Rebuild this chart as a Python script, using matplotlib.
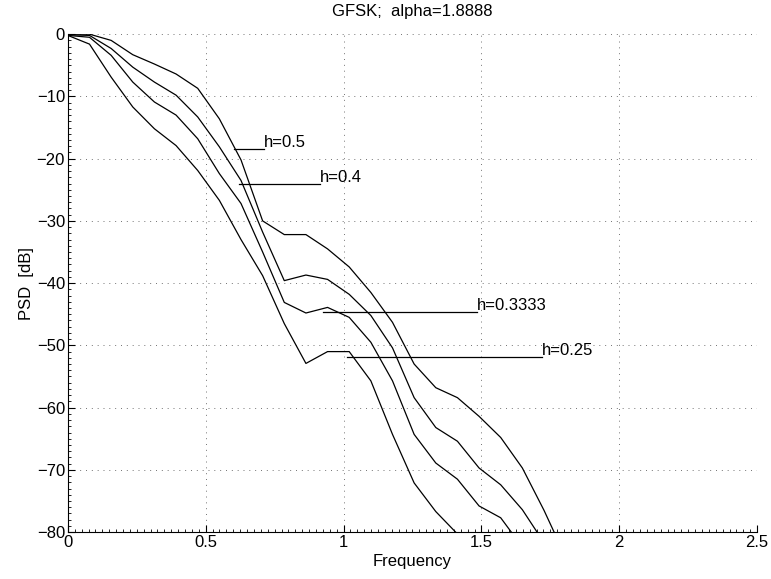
import numpy as np
import matplotlib
matplotlib.use("Agg")
from matplotlib import pyplot as plt
from matplotlib.ticker import MultipleLocator

plt.rcParams['font.family'] = ['Liberation Sans', 'DejaVu Sans']

# frequency grid of the estimated PSD
freq = [0.0, 0.0785, 0.157, 0.2355, 0.314, 0.3925, 0.471, 0.5495, 0.628,
        0.7065, 0.785, 0.8635, 0.942, 1.0205, 1.099, 1.1775, 1.256, 1.3345,
        1.413, 1.4915, 1.570, 1.6485, 1.727, 1.8055]

# PSD [dB] for each modulation index h
psd_h050 = [0.0, 0.0, -1.0, -3.3, -4.8, -6.4, -8.7, -13.6, -20.2, -30.0,
            -32.2, -32.2, -34.5, -37.4, -41.5, -46.3, -53.0, -56.8, -58.4,
            -61.4, -64.8, -69.7, -76.5, -84.0]
psd_h040 = [-0.1, -0.2, -2.3, -5.3, -7.7, -9.8, -13.3, -18.1, -23.5, -31.8,
            -39.6, -38.7, -39.4, -41.8, -45.2, -50.4, -58.4, -63.2, -65.4,
            -69.7, -72.4, -76.4, -81.7, -86.0]
psd_h033 = [-0.2, -0.5, -3.4, -7.7, -10.9, -13.0, -16.8, -22.4, -27.2, -35.0,
            -43.1, -44.8, -43.9, -45.5, -49.5, -55.7, -64.3, -68.9, -71.5,
            -75.8, -77.7, -82.4, -86.0, -90.0]
psd_h025 = [-0.2, -1.6, -6.9, -11.7, -15.2, -17.9, -21.9, -26.7, -33.0, -38.8,
            -46.5, -52.9, -51.0, -51.0, -55.7, -64.3, -72.1, -76.7, -80.3,
            -84.0, -88.0, -92.0, -96.0, -100.0]

# labels: text, leader line start x, line end x (= text x), y
labels = ['h=0.5', 'h=0.4', 'h=0.3333', 'h=0.25']
label_x0 = [0.601, 0.619, 0.925, 1.012]
label_x1 = [0.712, 0.915, 1.483, 1.718]
label_y = [-18.4, -24.0, -44.6, -51.9]

fig = plt.figure(figsize=(7.71, 5.79), dpi=100)
ax = fig.add_axes([0.088, 0.081, 0.894, 0.860])

for psd in [psd_h050, psd_h040, psd_h033, psd_h025]:
    ax.plot(freq, psd, color='k', lw=0.9)

for txt, x0, x1, y in zip(labels, label_x0, label_x1, label_y):
    ax.plot([x0, x1], [y, y], color='k', lw=0.9)
    ax.text(x1, y + 0.3, txt, fontsize=12, ha='left', va='baseline')

def fmt(v, p):
    return ('%g' % v).replace('-', '\u2212')

ax.set_xlim(0, 2.5)
ax.set_ylim(-80, 0)
ax.xaxis.set_major_locator(MultipleLocator(0.5))
ax.yaxis.set_major_locator(MultipleLocator(10))
ax.xaxis.set_minor_locator(MultipleLocator(0.025))
ax.yaxis.set_minor_locator(MultipleLocator(1))
ax.xaxis.set_major_formatter(plt.FuncFormatter(fmt))
ax.yaxis.set_major_formatter(plt.FuncFormatter(fmt))
ax.tick_params(which='major', direction='in', length=5, width=0.8, labelsize=12, pad=2)
ax.tick_params(which='minor', direction='in', length=2, width=0.6)

ax.grid(True, which='major', color='0.45', linestyle=(0, (1, 5)), lw=0.7)
ax.spines['top'].set_visible(False)
ax.spines['right'].set_visible(False)

ax.set_xlabel('Frequency', fontsize=12, labelpad=3)
ax.set_ylabel('PSD  [dB]', fontsize=12, labelpad=2)
ax.set_title('GFSK;  alpha=1.8888', fontsize=12, pad=13)

fig.savefig('out.png', dpi=100)
